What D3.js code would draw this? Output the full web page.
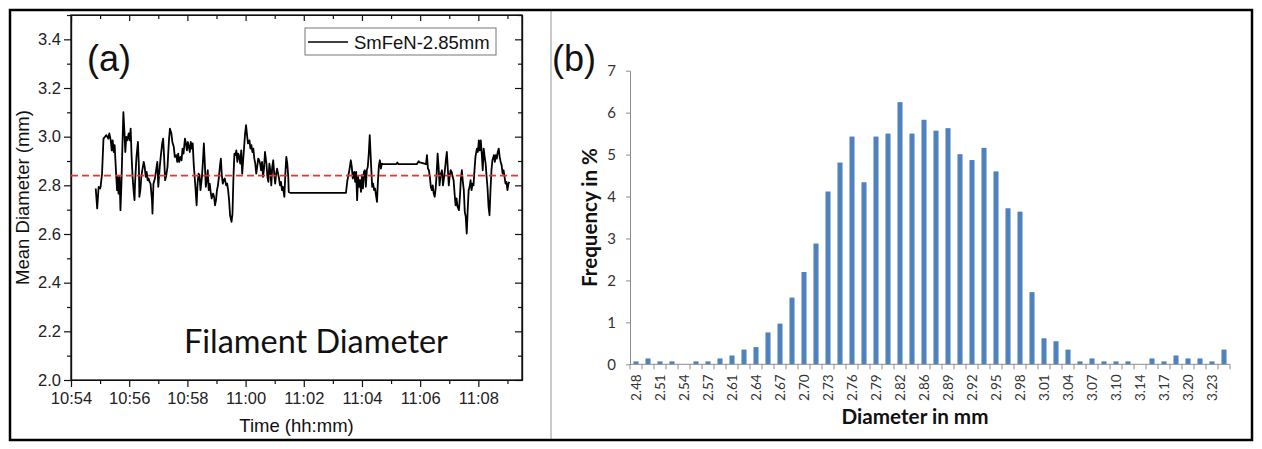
<!DOCTYPE html>
<html><head><meta charset="utf-8">
<script src="https://cdn.jsdelivr.net/npm/d3@7"></script>
<style>body{margin:0;background:#fff}</style>
</head><body><svg id="c" width="1262" height="449"></svg>
<script>
// ---------- Panel (a): time series ----------
const timeSec = [
 51,54,57,60,61,64,67,70,73,77,
 79,82,84,86,88,90,93,95,96,98,
 100,102,104,106,108,110,112,114,116,119,
 121,123,125,127,129,131,132,135,138,140,
 141,143,145,147,150,152,154,156,158,160,
 162,164,167,168,170,173,175,178,180,183,
 185,188,190,192,194,196,199,202,204,207,
 209,212,214,217,219,221,223,226,228,230,
 232,235,237,239,241,243,245,247,249,251,
 253,255,257,259,261,263,265,267,270,272,
 274,276,278,280,282,284,286,288,290,293,
 295,297,299,301,303,305,307,309,311,313,
 315,317,320,322,324,326,328,331,333,335,
 337,339,341,343,345,347,349,351,353,355,
 357,359,361,363,365,368,370,372,374,376,
 378,380,382,384,386,388,390,392,394,396,
 398,400,403,405,407,409,411,413,415,417,
 419,421,423,425,427,429,431,433,435,437,
 440,442,444,446,448,449,452,567,
 570,574,577,579,581,584,586,588,590,592,
 594,596,598,600,602,604,606,608,610,612,
 614,616,618,621,623,625,627,629,631,633,
 635,637,639,641,644,671,673,675,713,717,
 719,725,732,734,736,738,740,742,744,746,
 748,750,752,754,756,758,760,762,765,767,
 769,771,773,775,777,779,781,783,785,787,
 789,791,793,795,797,800,802,804,806,808,
 810,812,814,816,818,820,822,824,826,828,
 830,832,834,837,839,841,843,845,847,849,
 851,853,855,857,859,861,863,865,867,869,
 872,874,876,878,880,882,884,886,888,890,
 892,894,896,898,900,902,904
];
const meanDiameter = [
 2.787,2.705,2.794,2.787,2.794,2.848,2.992,2.999,3.006,2.992,
 3.013,2.985,2.944,2.985,2.937,2.965,2.848,2.780,2.835,2.766,
 2.835,2.698,2.807,2.958,3.101,3.026,2.937,2.999,2.985,3.013,
 2.985,3.033,2.917,2.835,2.780,2.739,2.807,2.917,2.978,2.876,
 2.753,2.780,2.835,2.862,2.896,2.876,2.835,2.855,2.821,2.828,
 2.814,2.807,2.739,2.684,2.807,2.828,2.855,2.896,2.794,2.876,
 2.917,2.972,2.992,2.917,2.821,2.835,2.876,2.985,3.033,3.013,
 2.978,2.958,2.917,2.924,2.896,2.930,2.896,2.917,2.903,2.951,
 2.930,2.992,2.972,2.944,2.978,2.958,2.937,2.978,2.951,2.972,
 2.889,2.835,2.780,2.718,2.807,2.848,2.842,2.780,2.835,2.896,
 2.972,2.889,2.794,2.821,2.862,2.780,2.807,2.773,2.746,2.766,
 2.753,2.718,2.739,2.780,2.800,2.835,2.876,2.910,2.842,2.807,
 2.821,2.828,2.800,2.807,2.780,2.739,2.677,2.650,2.684,2.835,
 2.930,2.924,2.944,2.896,2.930,2.917,2.889,2.944,2.848,2.903,
 2.958,3.013,3.047,3.006,2.972,2.985,2.951,2.965,2.937,2.951,
 2.910,2.889,2.848,2.876,2.910,2.903,2.889,2.862,2.896,2.835,
 2.869,2.937,2.889,2.835,2.814,2.889,2.862,2.800,2.876,2.903,
 2.848,2.807,2.848,2.869,2.848,2.828,2.800,2.814,2.780,2.794,
 2.753,2.848,2.917,2.889,2.835,2.773,2.769,2.769,
 2.821,2.862,2.903,2.876,2.828,2.855,2.814,2.855,2.739,2.835,
 2.794,2.821,2.773,2.842,2.787,2.855,2.862,2.794,2.862,2.876,
 2.930,3.006,2.917,2.794,2.807,2.780,2.787,2.759,2.732,2.821,
 2.883,2.903,2.869,2.889,2.887,2.887,2.894,2.887,2.887,2.899,
 2.894,2.891,2.887,2.924,2.869,2.862,2.835,2.794,2.780,2.800,
 2.766,2.753,2.787,2.848,2.930,2.876,2.800,2.842,2.862,2.800,
 2.828,2.862,2.903,2.937,2.869,2.800,2.842,2.862,2.855,2.835,
 2.821,2.766,2.718,2.746,2.712,2.698,2.753,2.828,2.862,2.814,
 2.780,2.691,2.671,2.602,2.698,2.780,2.794,2.821,2.780,2.807,
 2.800,2.862,2.917,2.951,2.937,2.985,2.944,2.985,2.930,2.862,
 2.951,2.917,2.889,2.835,2.787,2.712,2.677,2.780,2.862,2.903,
 2.924,2.896,2.924,2.910,2.937,2.951,2.917,2.896,2.883,2.848,
 2.862,2.835,2.807,2.814,2.780,2.807,2.814
];
const targetDiameter = 2.84;
const startTime = "10:54:00";
const endTime = "11:09:30";
const timeMajorTicks = ["10:54","10:56","10:58","11:00","11:02","11:04","11:06","11:08"];
const timeMinorTicks = ["10:55","10:57","10:59","11:01","11:03","11:05","11:07","11:09"];
const diamMajorTicks = [2.0,2.2,2.4,2.6,2.8,3.0,3.2,3.4];
const diamMinorTicks = [2.1,2.3,2.5,2.7,2.9,3.1,3.3,3.5];
const seriesName = "SmFeN-2.85mm";

// ---------- Panel (b): histogram ----------
const diameterBins = [
 "2.48","2.50","2.51","2.53","2.54","2.56","2.57","2.59","2.61","2.62",
 "2.64","2.65","2.67","2.68","2.70","2.71","2.73","2.75","2.76","2.78",
 "2.79","2.81","2.82","2.84","2.86","2.87","2.89","2.90","2.92","2.93",
 "2.95","2.96","2.98","3.00","3.01","3.03","3.04","3.06","3.07","3.09",
 "3.10","3.12","3.14","3.15","3.17","3.18","3.20","3.21","3.23","3.25"
];
const frequencyPct = [
 0.07,0.14,0.07,0.07,0,0.07,0.07,0.14,0.21,0.35,
 0.41,0.76,0.97,1.59,2.20,2.88,4.12,4.81,5.43,4.34,
 5.43,5.50,6.25,5.50,5.83,5.57,5.63,5.01,4.87,5.16,
 4.60,3.72,3.64,1.72,0.62,0.55,0.35,0.07,0.14,0.07,
 0.07,0.07,0,0.14,0.07,0.21,0.14,0.14,0.07,0.35
];
const binLabels = ["2.48","2.51","2.54","2.57","2.61","2.64","2.67","2.70","2.73","2.76","2.79","2.82","2.86","2.89","2.92","2.95","2.98","3.01","3.04","3.07","3.10","3.14","3.17","3.20","3.23"];
const freqTicks = [0,1,2,3,4,5,6,7];

// ================= drawing =================
const svg = d3.select("#c");
svg.append("rect").attr("width",1262).attr("height",449).attr("fill","#fff");

function fit(sel, w){
  const n = sel.node(); const fs = parseFloat(sel.attr("font-size"));
  const len = n.getComputedTextLength(); if(len>0) sel.attr("font-size", fs*w/len);
}

// ---- panel (a)
const parseT = d3.timeParse("%H:%M:%S");
const parseHM = d3.timeParse("%H:%M");
const t0 = parseT(startTime);
const xA = d3.scaleTime().domain([t0, parseT(endTime)]).range([71,522]);
const yA = d3.scaleLinear().domain([2.0,3.5]).range([380,15]);
const fA = "'Liberation Sans', Arial, sans-serif";
const gA = svg.append("g");

const data = d3.zip(timeSec, meanDiameter).map(([s,v]) => ({t:new Date(t0.getTime()+s*1000), v}));

function styleAxis(g){ g.selectAll("path,line").attr("stroke","#111").attr("stroke-width",1.2);
  g.selectAll("text").attr("fill","#222").attr("font-family",fA).attr("font-size",16.5); }
const majT = timeMajorTicks.map(parseHM), minT = timeMinorTicks.map(parseHM);
gA.append("g").attr("transform","translate(0,380)")
  .call(d3.axisBottom(xA).tickValues(majT).tickFormat(d3.timeFormat("%H:%M")).tickSize(7).tickSizeOuter(0).tickPadding(5)).call(styleAxis);
gA.append("g").attr("transform","translate(0,380)")
  .call(d3.axisBottom(xA).tickValues(minT).tickFormat("").tickSize(4).tickSizeOuter(0)).call(styleAxis);
gA.append("g").attr("transform","translate(0,15)")
  .call(d3.axisTop(xA).tickValues(majT).tickFormat("").tickSize(-6).tickSizeOuter(0)).call(styleAxis);
gA.append("g").attr("transform","translate(0,15)")
  .call(d3.axisTop(xA).tickValues(minT).tickFormat("").tickSize(-4).tickSizeOuter(0)).call(styleAxis);
gA.append("g").attr("transform","translate(71,0)")
  .call(d3.axisLeft(yA).tickValues(diamMajorTicks).tickFormat(d3.format(".1f")).tickSize(7).tickSizeOuter(0).tickPadding(3)).call(styleAxis);
gA.append("g").attr("transform","translate(71,0)")
  .call(d3.axisLeft(yA).tickValues(diamMinorTicks).tickFormat("").tickSize(4).tickSizeOuter(0)).call(styleAxis);
gA.append("g").attr("transform","translate(522,0)")
  .call(d3.axisRight(yA).tickValues(diamMajorTicks).tickFormat("").tickSize(-7).tickSizeOuter(0)).call(styleAxis);
gA.append("g").attr("transform","translate(522,0)")
  .call(d3.axisRight(yA).tickValues(diamMinorTicks).tickFormat("").tickSize(-4).tickSizeOuter(0)).call(styleAxis);
gA.append("rect").attr("x",71).attr("y",15).attr("width",451).attr("height",365)
  .attr("fill","none").attr("stroke","#111").attr("stroke-width",1.3);

gA.append("path").datum(data).attr("fill","none").attr("stroke","#000").attr("stroke-width",1.8)
  .attr("stroke-linejoin","round")
  .attr("d", d3.line().x(d=>xA(d.t)).y(d=>yA(d.v)));
gA.append("line").attr("x1",71).attr("x2",522).attr("y1",yA(targetDiameter)).attr("y2",yA(targetDiameter))
  .attr("stroke","#ff2a2a").attr("stroke-width",1.8).attr("stroke-dasharray","7,4");

gA.append("rect").attr("x",305).attr("y",28).attr("width",191).attr("height",27)
  .attr("fill","#fff").attr("stroke","#777").attr("stroke-width",1);
gA.append("line").attr("x1",308).attr("x2",348).attr("y1",42).attr("y2",42).attr("stroke","#000").attr("stroke-width",1.5);
gA.append("text").attr("x",354).attr("y",48.5).attr("font-family",fA).attr("font-size",18.5).attr("fill","#111").text(seriesName);

gA.append("text").attr("x",87).attr("y",70.5).attr("font-family",fA).attr("font-size",36).attr("fill","#111").text("(a)");
gA.append("text").attr("x",184).attr("y",353).attr("font-family","Lato, 'Open Sans', sans-serif").attr("font-size",28).attr("fill","#111")
  .text("Filament Diameter").call(s=>fit(s,264));
gA.append("text").attr("x",296.5).attr("y",432).attr("text-anchor","middle").attr("font-family",fA).attr("font-size",18.5).attr("fill","#111")
  .text("Time (hh:mm)");
gA.append("text").attr("transform","translate(29,197.5) rotate(-90)").attr("text-anchor","middle").attr("font-family",fA).attr("font-size",18.5).attr("fill","#111")
  .text("Mean Diameter (mm)");

// ---- panel (b)
const fB = "Lato, 'Open Sans', sans-serif";
const gB = svg.append("g");
const xB = d3.scaleBand().domain(diameterBins).range([630,1230]).paddingInner(0.58).paddingOuter(0.29);
const yB = d3.scaleLinear().domain([0,7]).range([364.3,70.7]);

gB.selectAll("rect.bar").data(frequencyPct).join("rect").attr("class","bar")
  .attr("x",(d,i)=>xB(diameterBins[i])).attr("width",xB.bandwidth())
  .attr("y",d=>yB(d)).attr("height",d=>yB(0)-yB(d)).attr("fill","#4F81BD");

const yAx = gB.append("g").attr("transform","translate(630,0)")
  .call(d3.axisLeft(yB).tickValues(freqTicks).tickFormat(d3.format("d")).tickSize(4).tickSizeOuter(0).tickPadding(10));
yAx.selectAll("path,line").attr("stroke","#8c8c8c").attr("stroke-width",1);
yAx.selectAll("text").attr("fill","#333").attr("font-family",fB).attr("font-size",15);

const gap = (xB.step()-xB.bandwidth())/2;
const bounds = diameterBins.map(d=>xB(d)-gap).concat([xB.range()[1]]);
gB.append("line").attr("x1",630).attr("x2",1230).attr("y1",yB(0)).attr("y2",yB(0)).attr("stroke","#8c8c8c");
gB.selectAll("line.bt").data(bounds).join("line").attr("class","bt")
  .attr("x1",d=>d).attr("x2",d=>d).attr("y1",yB(0)).attr("y2",yB(0)+5).attr("stroke","#8c8c8c");
gB.selectAll("text.xl").data(binLabels).join("text").attr("class","xl")
  .attr("transform",d=>`translate(${xB(d)+xB.bandwidth()/2},${yB(0)+10}) rotate(-90)`)
  .attr("text-anchor","end").attr("dy","0.35em").attr("font-family",fB).attr("font-size",13.5).attr("fill","#333")
  .text(d=>d);

gB.append("text").attr("x",552).attr("y",70.5).attr("font-family",fA).attr("font-size",36).attr("fill","#111").text("(b)");
gB.append("text").attr("x",915).attr("y",424).attr("text-anchor","middle").attr("font-family",fB).attr("font-weight","bold")
  .attr("font-size",17).attr("fill","#111").text("Diameter in mm").call(s=>fit(s,147));
gB.append("text").attr("transform","translate(597,217.5) rotate(-90)").attr("text-anchor","middle").attr("font-family",fB).attr("font-weight","bold")
  .attr("font-size",17).attr("fill","#111").text("Frequency in %").call(s=>fit(s,139));

svg.append("line").attr("x1",551).attr("x2",551).attr("y1",11).attr("y2",439).attr("stroke","#a8a8a8").attr("stroke-width",1.2);
svg.append("rect").attr("x",10).attr("y",10).attr("width",1242).attr("height",430)
  .attr("fill","none").attr("stroke","#000").attr("stroke-width",2.5);
</script></body></html>
